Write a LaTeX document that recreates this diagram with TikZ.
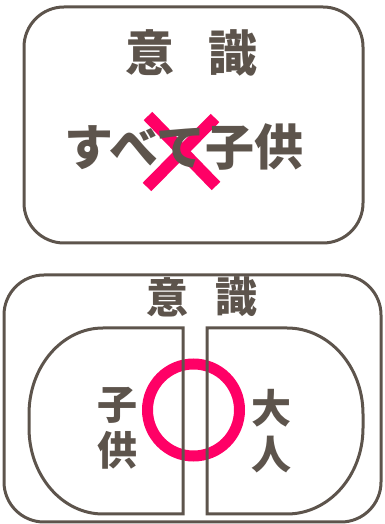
\documentclass[tikz,border=0pt]{standalone}
\usepackage{fontspec}
\newfontfamily\cjk{Noto Sans CJK JP}
\definecolor{ink}{RGB}{93,84,76}
\definecolor{hot}{RGB}{255,0,102}
\begin{document}
\begin{tikzpicture}[x=1pt,y=1pt,
  frame/.style={draw=ink,line width=3pt},
  lbl/.style={inner sep=0pt,text=ink,font=\cjk\bfseries},
  big/.style={lbl,font=\cjk\bfseries\fontsize{49}{49}\selectfont},
  mid/.style={lbl,font=\cjk\bfseries\fontsize{42}{42}\selectfont},
  small/.style={lbl,font=\cjk\bfseries\fontsize{40}{40}\selectfont},
  crossline/.style={draw=hot,line width=12pt}]
\useasboundingbox (0,0) rectangle (384,524);
% top panel
\draw[frame,rounded corners=40pt] (24,281) rectangle (363,517);
\node[big] (t1) at (150,471) {意};
\node[big] (t2) at (233,471) {識};
\coordinate (xa) at (148,408);
\coordinate (xb) at (216,338);
\coordinate (xc) at (215,406);
\coordinate (xd) at (147,337);
\draw[crossline] (xa) -- (xb);
\draw[crossline] (xc) -- (xd);
\node[big] (all) at (184,377) {すべて子供};
% bottom panel
\draw[frame,rounded corners=40pt] (4,2) rectangle (381,249);
\node[mid] (b1) at (167.5,227) {意};
\node[mid] (b2) at (236,227) {識};
\draw[draw=hot,line width=11pt] (193.5,114) circle[radius=46];
\draw[frame] (183,10) -- (183,196) -- (103,196)
  arc[start angle=90,end angle=180,x radius=74,y radius=86] -- (29,96)
  arc[start angle=180,end angle=270,x radius=74,y radius=86] -- cycle;
\draw[frame] (207,10) -- (207,196) -- (287,196)
  arc[start angle=90,end angle=0,x radius=76,y radius=86] -- (363,96)
  arc[start angle=0,end angle=-90,x radius=76,y radius=86] -- cycle;
\node[small] (c1) at (117,119) {子};
\node[small] (c2) at (117,74) {供};
\node[small] (a1) at (271,116) {大};
\node[small] (a2) at (271,69) {人};
\end{tikzpicture}
\end{document}
